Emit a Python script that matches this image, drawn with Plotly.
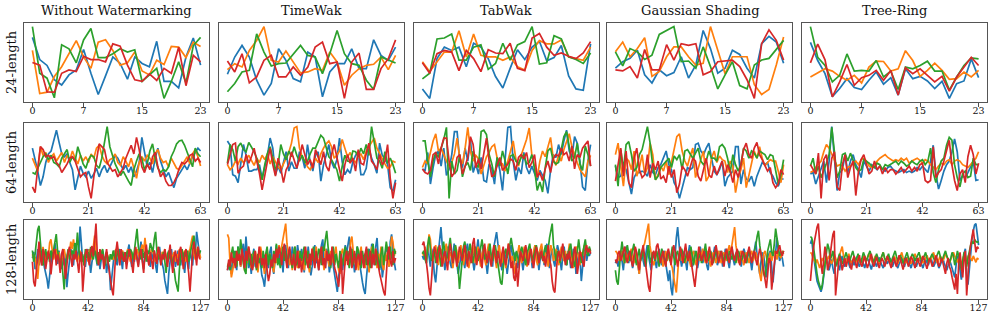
import plotly.graph_objects as go

methods = ["Without Watermarking", "TimeWak", "TabWak", "Gaussian Shading", "Tree-Ring"]
method_keys = ["wo", "tw", "tb", "gs", "tr"]
row_labels = ["24-length", "64-length", "128-length"]
lengths = [24, 64, 128]
tick_sets = {24: [0, 7, 15, 23], 64: [0, 21, 42, 63], 128: [0, 42, 84, 127]}
colors = ["#1f77b4", "#ff7f0e", "#2ca02c", "#d62728"]
line_keys = ["b", "o", "g", "r"]

# ---------------- 24-length ----------------
wo24_b = [190,122,104,60,44,75,90,153,80,15,72,130,110,62,130,110,100,178,55,55,35,130,188,105]
wo24_o = [150,18,22,70,100,140,180,130,95,175,183,150,105,112,145,87,75,120,107,162,160,128,175,162]
wo24_g = [223,80,65,5,167,155,112,182,217,128,128,140,155,145,152,55,75,95,3,55,115,50,165,190]
wo24_r = [113,105,23,22,80,90,85,132,122,122,115,170,163,105,60,55,78,58,95,80,160,42,135,115]

tw24_b = [78,130,165,130,60,15,50,155,120,65,55,145,130,10,85,110,110,155,95,95,182,135,120,160]
tw24_o = [92,110,100,150,180,222,120,115,148,115,82,85,95,90,145,115,45,75,95,105,108,130,92,135]
tw24_g = [25,50,85,90,200,145,103,110,112,140,165,135,130,80,140,210,140,110,105,60,32,130,120,112]
tw24_r = [118,85,140,52,70,120,135,70,70,100,75,100,160,175,110,115,5,115,142,32,32,95,125,182]

tb24_b = [32,3,125,160,150,160,100,172,160,125,70,35,95,152,122,160,178,118,128,165,72,32,28,170]
tb24_o = [115,85,115,145,145,210,130,200,135,130,130,120,130,100,90,150,180,170,170,182,130,125,120,160]
tb24_g = [63,80,185,188,200,120,120,160,167,92,110,172,120,167,177,223,108,112,195,185,130,122,110,142]
tb24_r = [112,80,140,150,145,88,150,125,85,152,142,140,172,95,88,188,202,160,135,142,132,125,142,177]

gs24_b = [95,115,125,150,75,50,90,72,82,130,65,105,210,155,80,95,150,137,95,65,170,192,175,110]
gs24_o = [145,175,130,155,188,70,85,130,160,160,130,105,110,222,150,78,130,130,130,45,15,30,105,190]
gs24_g = [145,102,155,145,122,135,198,210,222,115,117,95,160,100,32,75,115,42,32,105,120,125,152,180]
gs24_r = [90,87,100,65,152,90,90,167,120,170,165,170,75,85,115,118,120,100,60,3,170,212,180,120]

tr24_b = [175,120,80,10,35,65,38,32,60,85,48,68,15,95,65,72,58,35,57,5,50,58,125,68]
tr24_o = [70,82,95,88,72,60,75,52,100,118,117,88,95,150,120,72,90,112,90,63,65,85,70,90]
tr24_g = [223,130,105,55,75,140,88,90,88,120,70,88,32,100,95,105,118,88,88,30,70,105,128,125]
tr24_r = [113,170,122,10,55,108,45,68,75,90,60,90,15,98,80,95,75,55,72,27,70,102,130,105]

# ---------------- 64-length ----------------
wo64_b = [70,55,38,18,30,50,62,66,80,95, 78,62,58,62,50,40,12,28,45,35, 30,38,28,34,42,30,40,46,36,44,
          52,60,56,48,40,46,36,44,30,38, 50,85,62,44,50,36,56,70,52,40, 30,36,24,15,28,34,40,46,40,50, 58,64,70,66]
wo64_o = [56,48,38,72,60,64,50,58,62,52, 58,64,50,60,54,66,56,48,60,52, 58,50,62,56,70,74,60,52,48,54,
          56,62,50,46,58,52,44,56,42,28, 50,58,52,60,56,48,62,68,56,50, 52,44,56,48,42,40,46,52,58,48, 62,68,58,45]
wo64_g = [36,34,42,50,58,62,54,60,50,48, 44,56,62,68,50,58,52,72,60,48, 42,54,60,58,46,42,56,80,100,72,
          60,48,40,32,38,30,24,18,40,52, 62,55,40,48,66,76,56,42,36,40, 38,44,58,66,76,80,81,74,64,56, 44,70,62,58]
wo64_r = [16,8,42,72,68,58,60,56,58,50, 46,36,42,48,56,58,52,40,30,34, 36,16,0,30,52,76,72,68,50,44,
          38,40,30,36,42,56,66,74,62,85, 68,44,36,48,40,58,64,44,30,36, 24,18,18,22,30,42,50,48,52,60, 62,52,56,50]

tw64_b = [80,74,33,31,22,47,75,60,38,38, 40,40,47,28,42,60,84,70,33,45, 35,51,65,38,51,42,42,65,58,42,
          75,51,38,60,65,24,47,60,75,51, 42,54,84,51,33,40,35,51,60,65, 33,33,42,70,56,47,35,77,60,56, 47,15,10,26]
tw64_o = [47,40,44,52,48,56,50,54,60,52, 46,56,50,60,54,62,48,58,50,44, 40,48,56,64,77,98,100,70,58,52,
          44,40,48,56,50,62,70,76,80,72, 56,60,66,82,70,58,64,54,50,58, 62,54,66,72,78,84,70,62,56,48, 42,44,52,50]
tw64_g = [49,75,68,52,72,77,68,65,78,72, 65,56,42,26,47,63,72,56,40,47, 75,62,54,66,58,72,60,52,60,50,
          52,62,70,70,78,88,84,70,58,54, 47,40,24,45,60,52,51,66,65,58, 70,62,75,60,100,75,56,52,42,65, 49,56,47,35]
tw64_r = [47,61,75,77,35,42,45,61,49,58, 70,52,35,12,35,52,70,47,31,56, 42,22,40,47,65,52,42,56,75,61,
          47,54,42,68,56,47,65,45,38,61, 75,56,40,24,47,61,49,56,38,68, 49,47,61,77,52,47,40,61,47,52, 75,28,0,22]

tb64_b = [41,39,64,20,43,61,66,45,70,32, 41,61,93,93,52,43,70,52,82,36, 48,34,57,25,23,48,41,20,57,39,
          11,61,99,100,52,25,43,34,64,43, 34,45,36,25,39,32,25,7,39,61, 57,75,61,80,95,66,57,86,77,52, 16,11,52,75]
tb64_o = [43,52,48,64,80,90,66,70,60,52, 45,50,62,84,56,48,70,99,66,52, 60,55,34,45,58,64,72,75,56,50,
          48,38,52,62,80,55,45,60,70,82, 98,60,45,29,52,66,58,70,85,56, 46,60,52,68,78,90,72,60,50,40, 35,30,52,60]
tb64_g = [80,80,52,30,52,64,57,70,82,99, 0,52,34,39,61,30,45,50,39,66, 48,43,93,95,89,61,48,30,57,45,
          66,52,34,59,61,52,48,57,61,48, 50,61,41,11,23,9,43,66,70,52, 48,50,68,86,93,75,52,57,77,48, 39,73,61,45]
tb64_r = [41,36,34,39,61,64,48,70,84,84, 52,30,36,57,61,34,45,57,86,75, 43,55,41,64,84,52,30,34,45,57,
          39,43,48,55,52,39,57,61,55,64, 43,50,61,30,36,25,41,52,36,55, 61,59,70,61,64,52,73,41,61,57, 70,75,80,45]

gs64_b = [45,29,31,47,40,22,6,29,36,36, 38,36,31,47,36,33,43,47,56,66, 47,40,22,15,0,15,31,43,40,43,
          75,77,66,61,70,77,56,38,33,40, 52,17,29,33,38,72,72,20,40,27, 24,31,17,31,40,50,47,50,36,31, 22,17,27,27]
gs64_o = [61,77,45,17,56,52,40,66,31,43, 61,33,43,77,61,26,33,45,38,52, 33,50,66,86,90,66,52,45,59,70,
          29,43,54,66,24,31,56,66,50,59, 54,52,36,52,45,8,29,40,56,15, 33,52,66,56,72,56,45,50,54,52, 52,38,22,47]
gs64_g = [47,17,68,40,75,79,61,38,43,61, 68,84,100,77,45,26,31,43,47,52, 56,43,59,54,61,40,66,68,61,56,
          63,70,52,47,52,66,56,56,52,72, 75,70,56,36,61,47,38,47,70,66, 56,66,63,56,66,63,61,54,61,59, 40,20,33,54]
gs64_r = [24,47,70,31,66,22,15,56,70,40, 29,33,61,29,49,40,52,27,31,22, 45,29,40,8,20,45,40,31,45,56,
          52,31,24,40,56,33,29,45,33,43, 52,31,47,38,22,40,29,47,68,77, 61,56,70,78,61,54,45,38,43,22, 15,20,40,33]

tr64_b = [34,36,20,31,40,52,22,52,100,56, 11,36,40,61,36,52,61,47,40,29, 52,45,38,47,43,40,45,40,38,43,
          45,40,38,36,38,40,36,38,36,38, 43,40,45,40,36,52,74,34,13,25, 38,47,52,65,83,65,25,31,29,36, 43,52,25,26]
tr64_o = [36,38,43,47,52,65,75,70,61,52, 45,47,45,38,43,45,49,52,47,54, 56,52,45,43,45,52,56,58,61,57,
          54,52,54,52,56,53,56,49,52,54, 56,53,49,54,52,47,43,40,45,49, 47,52,54,47,52,54,52,47,45,43, 47,52,56,65]
tr64_g = [45,56,34,45,29,38,49,61,99,65, 29,38,61,63,52,63,52,43,38,40, 54,52,49,45,43,49,47,40,47,45,
          47,49,52,47,52,49,45,47,52,49, 47,52,54,47,52,70,36,22,40,52, 56,74,85,81,47,29,16,34,38,29, 31,56,47,47]
tr64_r = [47,40,34,63,0,54,61,25,56,65, 16,11,47,61,29,43,52,4,38,54, 61,47,34,38,52,40,45,34,43,36,
          40,40,34,38,43,36,40,45,38,43, 38,47,49,25,22,25,72,29,36,40, 52,65,81,47,25,11,34,40,22,58, 74,61,34,49]

# ---------------- 128-length ----------------
wo128_b = [50,58,35,45,62,40,55,48,60,38, 30,22,9,28,45,60,52,70,55,42, 60,48,35,52,40,55,11,30,48,62,
           55,40,62,70,50,58,92,60,45,52, 38,55,62,48,30,45,58,66,50,40, 55,35,48,60,42,52,30,45,38,7,
           25,48,60,52,40,55,62,48,35,58, 50,42,60,68,52,38,55,45,62,50, 40,58,72,48,35,55,62,45,52,38,
           58,48,60,40,30,55,65,50,42,35, 20,10,2,30,52,62,45,55,38,48, 60,52,40,58,45,30,55,48,35,62,
           50,40,68,55,85,70,58,60]
wo128_o = [55,48,52,40,22,45,60,50,65,55, 45,58,50,70,75,60,48,55,62,50, 58,45,40,55,62,52,48,60,58,72,
           62,75,58,50,45,55,60,48,52,40, 50,58,45,62,55,48,65,80,58,52, 45,50,60,55,48,42,58,52,45,55,
           50,48,55,62,52,58,45,50,60,55, 48,55,62,52,45,58,50,55,48,62, 55,50,62,68,58,77,60,52,48,55,
           62,58,50,45,55,60,52,48,58,55, 62,50,45,55,60,48,52,58,45,55, 50,62,58,48,55,60,45,50,58,62,
           72,80,55,48,60,65,58,50]
wo128_g = [60,45,55,75,88,93,70,50,40,55, 62,48,55,45,60,50,62,70,82,60, 45,38,50,30,8,40,55,62,48,55,
           60,52,70,58,84,62,50,45,55,40, 62,50,58,45,65,52,48,60,55,42, 58,45,55,62,50,40,58,52,45,55,
           48,60,52,45,55,62,50,48,58,52, 45,55,60,52,62,58,48,60,72,89, 65,55,48,62,50,58,45,60,55,70,
           62,58,75,85,60,48,55,42,50,58, 45,30,55,60,48,52,40,35,20,10, 5,35,55,62,48,58,52,60,45,55,
           62,70,80,58,50,62,55,60]
wo128_r = [45,18,12,35,60,72,50,40,62,55, 35,48,60,52,28,45,58,62,40,55, 48,30,55,62,45,22,40,58,65,50,
           38,55,48,60,42,30,50,58,5,35, 55,62,48,40,58,66,52,70,96,55, 40,62,48,55,35,50,62,45,30,15,
           8,0,30,58,72,55,40,62,50,45, 58,35,48,62,55,40,30,52,65,48, 38,55,62,45,30,55,68,50,40,58,
           48,35,60,52,42,65,58,40,55,48, 62,50,38,55,68,45,30,52,60,48, 40,58,65,50,35,55,62,45,30,5,
           35,60,72,55,40,65,50,48]

tw128_b = [35,40,52,30,45,62,50,35,68,55, 40,60,72,45,82,58,38,50,30,55, 65,40,52,35,60,45,28,22,12,32,
           52,38,60,68,40,30,50,70,45,60, 40,55,32,65,70,50,38,60,45,68, 58,35,50,70,55,40,65,48,32,60,
           45,68,52,28,40,60,70,45,50,35, 58,70,78,48,38,65,55,32,45,60, 40,28,15,5,25,45,60,35,50,70,
           58,72,82,60,40,52,32,45,68,55, 40,30,18,8,2,25,50,65,40,72, 55,42,68,80,50,35,58,25,40,55,
           68,60,40,75,85,58,45,35]
tw128_o = [85,80,45,25,35,50,58,42,65,52, 40,62,48,35,58,45,68,50,38,58, 45,62,52,32,48,68,58,40,30,52,
           65,45,58,48,38,32,52,45,62,70, 58,68,75,88,100,72,55,42,52,35, 58,68,48,38,62,52,42,58,35,48,
           62,45,32,52,65,58,42,68,48,38, 58,45,52,35,65,58,48,40,62,52, 45,58,68,48,35,30,58,65,50,42,
           62,48,40,75,82,62,45,58,48,35, 58,68,45,52,38,62,48,32,58,68, 45,52,65,38,58,48,68,42,35,58,
           48,62,40,68,82,75,55,62]
tw128_g = [40,45,35,58,68,48,62,40,68,52, 78,58,45,35,30,65,52,42,58,38, 62,48,35,58,45,52,38,62,48,58,
           68,42,58,48,38,62,52,72,42,52, 38,58,68,48,62,42,58,65,50,38, 58,68,42,52,38,62,48,58,68,42,
           52,62,38,58,48,68,42,58,52,65, 58,42,68,62,78,90,68,48,38,58, 68,42,58,48,38,62,52,42,58,68,
           48,62,38,52,65,42,58,48,68,62, 52,38,62,48,58,42,65,52,38,58, 72,48,42,62,52,38,58,68,42,58,
           75,62,50,68,55,42,65,58]
tw128_r = [35,50,40,60,45,52,38,62,48,58, 42,65,52,38,62,48,68,58,42,35, 52,62,38,48,68,58,42,52,38,58,
           35,20,30,50,40,58,45,65,52,68, 58,42,62,72,52,38,58,68,48,42, 58,35,48,62,38,52,32,45,58,68,
           48,38,58,42,65,52,38,62,48,35, 58,68,42,52,38,62,48,58,42,68, 52,38,32,22,12,35,58,2,28,50,
           62,42,58,68,38,50,62,35,52,58, 42,62,48,38,58,68,42,52,62,38, 58,42,65,52,38,30,22,12,5,0,
           35,58,68,48,40,62,45,52]

tb128_b = [55,50,62,45,70,58,40,65,55,30, 18,40,62,78,95,70,50,35,55,68, 62,45,38,55,72,60,48,30,42,58,
           65,50,38,60,72,55,45,62,50,35, 48,68,78,60,45,55,70,62,40,30, 48,62,55,40,68,80,88,72,58,45,
           35,55,62,48,30,45,58,70,55,42, 60,50,38,55,65,48,35,52,68,58, 45,62,55,38,48,70,62,50,35,58,
           68,55,42,60,72,50,38,55,65,48, 40,58,70,62,45,35,55,68,50,42, 62,55,38,48,65,58,30,45,60,52,
           20,40,62,70,48,58,55,60]
tb128_o = [60,55,68,50,62,85,78,55,48,62, 70,55,42,58,65,50,45,62,72,58, 48,60,55,38,52,68,62,45,55,70,
           58,42,55,65,50,38,48,62,70,55, 45,60,68,52,40,58,65,50,42,62, 72,58,45,55,68,50,38,60,70,55,
           45,62,50,38,55,72,60,48,55,40, 30,48,62,70,55,45,58,68,50,40, 55,65,58,45,62,70,50,42,58,65,
           72,55,45,60,52,40,58,70,62,48, 55,65,50,42,60,68,55,48,62,45, 58,72,60,45,38,55,68,62,50,42,
           60,55,68,72,58,62,65,60]
tb128_g = [58,62,50,45,70,82,65,48,55,62, 45,58,68,55,40,62,75,58,48,55, 68,80,62,45,58,70,52,38,9,30,
           55,68,75,60,48,62,72,58,45,55, 68,60,48,55,70,78,62,50,58,45, 60,72,55,48,62,70,58,45,30,18,
           15,40,58,65,52,60,72,80,68,55, 48,62,55,45,58,68,60,50,42,58, 65,72,58,48,55,62,70,58,45,60,
           55,48,62,70,58,65,80,92,100,70, 55,48,62,58,45,55,68,60,50,42, 58,65,72,55,48,40,55,62,78,60,
           45,58,70,78,62,55,68,62]
tb128_r = [70,75,62,48,30,10,0,25,55,68, 62,45,55,70,58,40,55,62,48,35, 60,72,58,45,62,55,40,52,68,60,
           48,58,70,52,40,62,55,45,72,80, 58,42,55,65,50,38,60,72,55,45, 62,50,40,58,70,55,45,62,52,40,
           58,68,50,42,60,72,55,38,48,25, 20,45,12,40,62,55,48,60,70,52, 42,58,65,50,38,55,68,60,45,58,
           62,48,55,40,58,70,50,42,20,8, 4,30,55,62,48,60,72,55,42,58, 50,62,45,38,55,68,58,30,45,62,
           55,48,40,62,70,60,65,58]

gs128_b = [45,50,40,55,62,48,35,55,68,58, 45,60,52,38,48,65,58,42,30,55, 62,48,40,58,70,55,45,35,52,60,
           48,38,55,65,50,42,58,62,45,30, 20,35,10,0,30,60,80,95,70,52, 40,55,62,48,35,58,70,52,40,45,
           62,55,38,48,68,58,45,55,62,42, 35,52,60,48,58,68,55,42,50,62, 55,40,48,65,58,45,38,55,68,50,
           42,58,62,48,55,40,52,65,58,45, 55,62,48,35,52,68,75,55,42,30, 48,60,55,40,25,45,58,62,35,18,
           40,58,80,62,48,55,52,40]
gs128_o = [62,60,55,48,58,62,50,45,60,55, 48,58,65,52,45,60,55,42,30,50, 62,68,72,80,92,100,70,55,48,42,
           55,62,50,45,58,52,40,55,62,48, 58,50,45,38,25,12,4,30,55,62, 48,58,52,45,62,55,48,40,58,62,
           50,42,55,60,48,58,65,52,45,55, 62,48,40,55,60,52,45,58,62,50, 45,55,60,52,48,62,70,58,72,85,
           95,70,55,45,58,62,50,42,55,60, 52,45,58,62,48,55,60,52,45,30, 20,40,58,62,55,45,52,60,48,55,
           62,58,50,60,55,52,62,58]
gs128_g = [35,20,15,40,60,75,55,45,62,70, 58,48,55,62,72,50,42,55,65,48, 55,62,48,40,58,70,52,45,60,55,
           48,62,55,40,52,65,58,48,42,55, 62,48,55,68,50,42,58,62,48,55, 65,58,45,52,60,48,55,68,52,42,
           55,62,48,55,58,45,52,60,72,55, 48,55,62,50,45,58,65,52,48,55, 62,55,45,58,52,48,62,55,50,58,
           52,45,58,62,55,48,52,60,55,45, 58,65,52,48,55,62,70,82,90,70, 55,40,30,25,48,62,70,78,60,55,
           72,93,80,65,55,60,58,62]
gs128_r = [50,45,58,62,48,55,60,68,52,45, 58,62,48,40,55,68,60,45,35,52, 62,70,55,40,25,12,5,35,58,62,
           50,68,72,58,45,55,62,48,40,58, 65,55,42,58,70,62,48,40,55,68, 58,45,60,72,55,48,62,50,35,20,
           12,30,55,68,60,48,55,62,50,45, 58,68,55,42,50,62,70,58,45,55, 62,48,40,58,65,52,45,60,68,55,
           48,58,65,50,42,55,62,58,45,52, 60,68,55,45,58,62,50,42,55,65, 58,45,35,20,10,30,52,48,8,25,
           50,62,58,65,70,60,55,62]

tr128_b = [72,78,60,45,30,20,15,8,5,12, 25,40,55,48,35,42,50,38,30,45, 50,42,35,48,55,45,40,48,52,44,
           38,46,50,42,48,54,45,40,47,52, 44,38,46,52,48,42,36,44,50,45, 40,48,53,46,42,38,45,50,44,48,
           52,45,40,46,50,42,38,44,48,52, 45,40,47,53,48,42,38,45,50,44, 40,46,52,48,43,38,45,50,46,42,
           48,53,46,40,44,50,45,38,42,48, 52,45,40,35,42,50,44,38,30,25, 42,55,48,35,22,40,58,65,30,15,
           40,62,78,90,98,100,85,70]
tr128_o = [60,58,52,48,45,50,42,38,45,52, 48,42,46,50,55,48,44,50,58,52, 46,50,55,62,68,55,50,46,52,58,
           50,45,48,54,50,46,52,48,44,50, 55,50,46,52,58,54,48,45,50,55, 52,48,44,50,56,60,52,47,50,54,
           48,45,50,55,52,48,44,50,55,60, 52,48,45,50,54,48,44,49,53,58, 52,46,50,55,50,45,48,53,56,50,
           46,50,55,60,52,48,45,50,55,52, 48,52,58,54,48,45,50,56,60,55, 50,46,52,48,44,50,56,52,48,54,
           58,52,48,55,50,46,52,50]
tr128_g = [82,80,72,55,40,30,20,12,8,15, 30,45,60,72,65,50,55,62,48,40, 45,52,58,50,44,48,55,60,52,46,
           50,56,62,54,48,52,58,50,45,52, 60,55,48,52,57,62,55,50,46,52, 58,52,47,50,55,60,52,48,53,58,
           50,46,52,57,62,54,48,52,56,50, 45,50,55,60,52,48,53,58,54,48, 52,56,60,53,48,50,55,60,52,46,
           50,55,58,52,48,53,57,62,55,48, 52,58,62,55,48,45,52,60,55,42, 50,62,55,45,35,48,60,55,40,52,
           62,70,75,72,78,75,74,75]
tr128_r = [20,45,62,75,88,95,100,70,45,30, 50,68,55,35,42,60,72,85,90,0, 25,40,55,48,35,45,52,40,48,55,
           42,36,48,55,45,38,50,56,44,40, 48,55,46,38,44,52,58,45,40,48, 54,44,38,46,52,48,40,45,55,50,
           42,38,47,53,45,40,48,56,50,42, 36,45,52,48,40,46,54,50,43,38, 46,52,45,40,48,55,50,42,37,45,
           52,48,40,44,50,56,48,40,45,52, 46,38,30,45,52,40,35,25,15,8, 30,2,45,60,40,25,50,62,0,30,
           55,70,85,92,75,60,68,65]

data = globals()

# ---------------- layout geometry (pixels) ----------------
W, H = 997, 319
col_left = [24, 219, 414, 607, 802]
panel_w = 185
row_top = [23, 123, 220]
panel_h = 79

FONT = "DejaVu Serif"
fig = go.Figure()
layout = dict(
    width=W, height=H,
    margin=dict(l=0, r=0, t=0, b=0),
    paper_bgcolor="white", plot_bgcolor="white",
    showlegend=False,
)
annotations = []

for r, n in enumerate(lengths):
    for c, key in enumerate(method_keys):
        k = r * 5 + c + 1
        xa = "xaxis" if k == 1 else f"xaxis{k}"
        ya = "yaxis" if k == 1 else f"yaxis{k}"
        xr = "x" if k == 1 else f"x{k}"
        yr = "y" if k == 1 else f"y{k}"
        allv = []
        for ci, lk in enumerate(line_keys):
            vals = data[f"{key}{n}_{lk}"]
            allv += vals
            fig.add_trace(go.Scatter(
                x=list(range(len(vals))), y=vals, mode="lines",
                line=dict(color=colors[ci], width=1.7),
                xaxis=xr, yaxis=yr, hoverinfo="skip",
            ))
        lo, hi = min(allv), max(allv)
        pad = 0.05 * (hi - lo)
        x0 = col_left[c] / W
        x1 = (col_left[c] + panel_w) / W
        y1 = 1 - row_top[r] / H
        y0 = 1 - (row_top[r] + panel_h) / H
        layout[xa] = dict(
            domain=[x0, x1], anchor=yr,
            range=[-0.05 * (n - 1), 1.05 * (n - 1)],
            tickmode="array", tickvals=tick_sets[n], ticktext=[str(t) for t in tick_sets[n]],
            ticks="outside", ticklen=3.5, tickwidth=0.8, tickcolor="#222",
            ticklabelstandoff=-4,
            showline=True, mirror=True, linecolor="#555", linewidth=1,
            showgrid=False, zeroline=False,
            tickfont=dict(family=FONT, size=9.5, color="#111"),
        )
        layout[ya] = dict(
            domain=[y0, y1], anchor=xr,
            range=[lo - pad, hi + pad],
            showticklabels=False, ticks="",
            showline=True, mirror=True, linecolor="#555", linewidth=1,
            showgrid=False, zeroline=False,
        )

for c, name in enumerate(methods):
    annotations.append(dict(
        text=name, x=(col_left[c] + panel_w / 2) / W, y=1 - 11 / H,
        xref="paper", yref="paper", xanchor="center", yanchor="middle",
        showarrow=False, font=dict(family=FONT, size=13, color="#111"),
    ))
for r, lab in enumerate(row_labels):
    annotations.append(dict(
        text=lab, x=11.5 / W, y=1 - (row_top[r] + panel_h / 2) / H,
        xref="paper", yref="paper", xanchor="center", yanchor="middle",
        textangle=-90, showarrow=False, font=dict(family=FONT, size=13, color="#111"),
    ))

layout["annotations"] = annotations
fig.update_layout(**layout)
fig.write_html("out.html",
               config={"displayModeBar": False, "staticPlot": True},
               post_script="document.body.style.margin='0';document.body.style.overflow='hidden';")
